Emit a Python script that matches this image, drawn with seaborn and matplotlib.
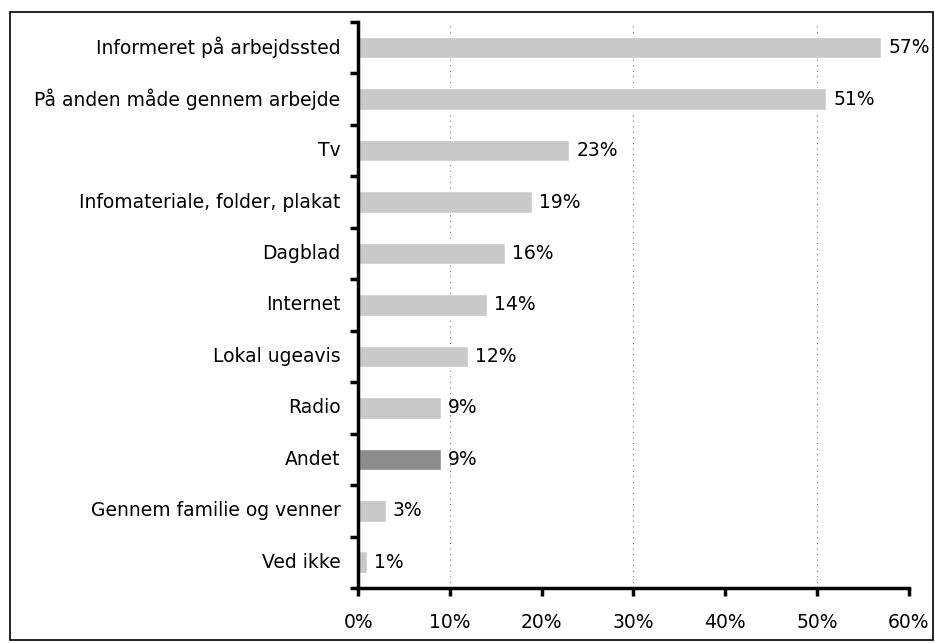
import numpy as np
import pandas as pd
import matplotlib
matplotlib.use('Agg')
import matplotlib.pyplot as plt
import seaborn as sns
from matplotlib.patches import Rectangle

categories = ['Informeret på arbejdssted', 'På anden måde gennem arbejde', 'Tv',
              'Infomateriale, folder, plakat', 'Dagblad', 'Internet', 'Lokal ugeavis',
              'Radio', 'Andet', 'Gennem familie og venner', 'Ved ikke']
values = [57, 51, 23, 19, 16, 14, 12, 9, 9, 3, 1]
xticks = [0, 10, 20, 30, 40, 50, 60]

df = pd.DataFrame({'kilde': categories, 'pct': values})
colors = {c: ('#8c8c8c' if c == 'Andet' else '#c9c9c9') for c in categories}

sns.set_style('white')
plt.rcParams['font.family'] = ['DejaVu Sans']
plt.rcParams['text.color'] = 'black'
plt.rcParams['xtick.color'] = 'black'
plt.rcParams['ytick.color'] = 'black'

fig = plt.figure(figsize=(9.35, 6.43), dpi=100)
ax = fig.add_axes([0.383, 0.0855, 0.589, 0.8805])

sns.barplot(data=df, x='pct', y='kilde', hue='kilde', palette=colors, legend=False,
            width=0.42, orient='h', ax=ax, saturation=1)

for cont in ax.containers:
    ax.bar_label(cont, labels=[f'{v:g}%' for v in cont.datavalues], padding=5, fontsize=13.5,
                 color='black')

ax.set_xlim(0, 60)
ax.set_ylim(len(categories) - 0.5, -0.5)
ax.set_xticks(xticks)
ax.set_xticklabels([f'{t}%' for t in xticks], fontsize=13.5)
ax.tick_params(axis='x', bottom=True, direction='out', length=6, width=2.5, pad=12)
ax.set_yticks(np.arange(-0.5, len(categories), 1))
ax.set_yticklabels([])
ax.tick_params(axis='y', left=True, direction='out', length=6, width=2.5)
for i, c in enumerate(categories):
    ax.text(-0.032, i, c, transform=ax.get_yaxis_transform(), ha='right', va='center',
            fontsize=13.5, color='black')

for t in [10, 30, 50]:
    ax.axvline(t, color='#777777', linestyle=(0, (1, 4)), linewidth=0.8, zorder=0)

for side in ['top', 'right']:
    ax.spines[side].set_visible(False)
for side in ['left', 'bottom']:
    ax.spines[side].set_linewidth(2.5)
    ax.spines[side].set_color('black')
ax.set_xlabel('')
ax.set_ylabel('')

fig.patches.append(Rectangle((10 / 935, 3 / 643), 923 / 935, 628 / 643, transform=fig.transFigure,
                             fill=False, edgecolor='black', linewidth=1.2))

fig.savefig('out.png', dpi=100)
